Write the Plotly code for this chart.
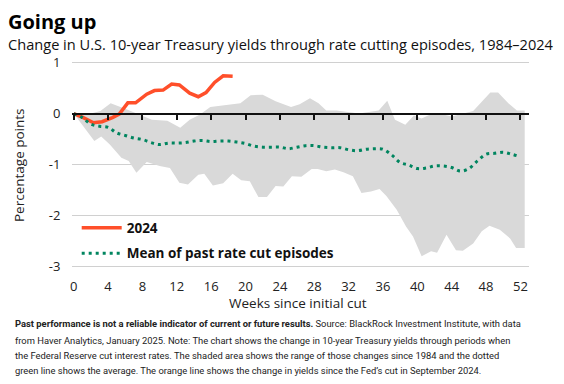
import plotly.graph_objects as go

# ---- data ----
upper_weeks = [0, 2, 3.1, 4.3, 6.2, 7.7, 9.1, 10.9, 12.4, 13.5, 14.7, 15.9, 17.8, 19.4, 20.6, 22.0, 23.5,
               25.3, 26.3, 27.5, 28.5, 29.4, 30.6, 31.6, 33.2, 35.5, 36.5, 37.4, 38.6, 39.6, 40.5, 41.5,
               43.0, 44.0, 46.5, 48.5, 49.4, 50.6, 51.6, 52.5]
upper_vals = [0, 0, 0.05, 0.2, 0.08, -0.02, -0.12, -0.14, -0.28, -0.12, -0.02, 0.13, 0.17, 0.2, 0.36, 0.37, 0.24,
              0.13, 0.18, 0.3, 0.2, 0.06, 0.06, 0.04, 0.0, 0.06, 0.25, -0.12, -0.22, -0.04, -0.1, -0.02,
              -0.02, -0.06, 0.05, 0.41, 0.41, 0.2, 0.06, 0.06]

lower_weeks = [0, 2.4, 3.2, 4.2, 5.55, 6.4, 7.3, 8.5, 10, 11.2, 12.3, 13.3, 14.5, 15.2, 16.2, 17.4, 18.5,
               19.5, 20.5, 21.5, 22.5, 23.5, 24.4, 25.4, 26.5, 27.7, 28.4, 29.4, 30.4, 31.4, 32.5, 33.5,
               34.6, 35.6, 36.4, 37.6, 38.7, 39.5, 40.5, 41.6, 42.3, 43.4, 44.5, 45.3, 46.5, 47.5, 48.4,
               49.6, 50.8, 51.5, 52.5]
lower_vals = [0, -0.54, -0.45, -0.61, -0.87, -0.93, -1.16, -0.95, -1.03, -1.07, -1.36, -1.39, -1.2, -1.18,
              -1.41, -1.37, -1.18, -1.31, -1.33, -1.64, -1.64, -1.42, -1.43, -1.23, -1.24, -1.09, -1.09,
              -1.13, -1.1, -1.15, -1.23, -1.56, -1.53, -1.48, -1.62, -1.89, -2.22, -2.41, -2.80, -2.70,
              -2.73, -2.38, -2.68, -2.69, -2.55, -2.31, -2.2, -2.28, -2.45, -2.64, -2.64]

mean_weeks = list(range(0, 53))
mean_vals = [0, -0.08, -0.21, -0.25, -0.27, -0.38, -0.43, -0.48, -0.51, -0.57, -0.61, -0.58, -0.58, -0.57,
             -0.54, -0.53, -0.55, -0.54, -0.54, -0.56, -0.59, -0.64, -0.66, -0.66, -0.66, -0.69, -0.66,
             -0.63, -0.63, -0.66, -0.67, -0.67, -0.71, -0.73, -0.70, -0.69, -0.70, -0.81, -0.96, -1.01,
             -1.08, -1.07, -1.03, -1.03, -1.06, -1.13, -1.08, -0.93, -0.80, -0.78, -0.76, -0.80, -0.85]

y2024_weeks = [0, 1, 2.3, 3.3, 4.5, 5.3, 6.3, 7.2, 8.5, 9.4, 10.4, 11.4, 12.3, 13.5, 14.5, 15.4, 16.4, 17.4, 18.5]
y2024_vals = [0, -0.07, -0.18, -0.16, -0.08, -0.01, 0.21, 0.21, 0.38, 0.45, 0.46, 0.58, 0.56, 0.40, 0.33,
              0.41, 0.61, 0.74, 0.73]

x_ticks = list(range(0, 53, 4))
y_ticks = [1, 0, -1, -2, -3]
y_tick_labels = ["1", "0", "-1", "-2", "-3"]

title = "Going up"
subtitle = "Change in U.S. 10-year Treasury yields through rate cutting episodes, 1984–2024"
x_title = "Weeks since initial cut"
y_title = "Percentage points"
note_lines = [
    "<b>Past performance is not a reliable indicator of current or future results.</b> Source: BlackRock Investment Institute, with data",
    "from Haver Analytics, January 2025. Note: The chart shows the change in 10-year Treasury yields through periods when",
    "the Federal Reserve cut interest rates. The shaded area shows the range of those changes since 1984 and the dotted",
    "green line shows the average. The orange line shows the change in yields since the Fed’s cut in September 2024.",
]

ORANGE = "#FF4F2A"
GREEN = "#00855F"
BAND = "#D9D9D9"
FONT = "Open Sans"
NOTE_FONT = "Roboto"

# The page has an 8px body margin; work in screen pixels and convert.
OFF = 8
W, H = 564 - OFF, 384 - OFF
PLOT_L, PLOT_R, PLOT_T, PLOT_B = 72.3, 529.3, 59.7, 268.6   # screen px of plot area
L, T = PLOT_L - OFF, PLOT_T - OFF
R, B = W - (PLOT_R - OFF), H - (PLOT_B - OFF)
PW, PH = PLOT_R - PLOT_L, PLOT_B - PLOT_T


def px_x(px):
    return (px - PLOT_L) / PW


def px_y(py):
    return (PLOT_B - py) / PH


fig = go.Figure()

fig.add_trace(go.Scatter(
    x=upper_weeks + lower_weeks[::-1],
    y=upper_vals + lower_vals[::-1],
    fill="toself", fillcolor=BAND, line=dict(width=0), mode="lines",
    showlegend=False, hoverinfo="skip"))

fig.add_trace(go.Scatter(
    x=[0, 52], y=[0, 0], xaxis="x2", mode="lines", line=dict(width=0),
    showlegend=False, hoverinfo="skip"))

fig.add_trace(go.Scatter(
    x=y2024_weeks, y=y2024_vals, mode="lines", name="<b>2024</b>",
    line=dict(color=ORANGE, width=3.5), legendgroup="a"))

fig.add_trace(go.Scatter(
    x=mean_weeks, y=mean_vals, mode="lines", name="<b>Mean of past rate cut episodes</b>",
    line=dict(color=GREEN, width=3, dash="3px,4px", shape="spline"), legendgroup="b"))

fig.update_layout(
    width=W, height=H,
    margin=dict(l=L, r=R, t=T, b=B, autoexpand=False),
    paper_bgcolor="white", plot_bgcolor="white",
    font=dict(family=FONT, size=13, color="#222"),
    xaxis=dict(range=[-0.2, 53], tickvals=x_ticks, showgrid=False, zeroline=False, automargin=False,
               showline=False, ticks="outside", ticklen=5, tickcolor="rgba(0,0,0,0)",
               tickfont=dict(size=13, color="#222")),
    xaxis2=dict(range=[-0.2, 53], overlaying="x", anchor="free", position=3.05 / 4.1,
                tickvals=x_ticks, showticklabels=False, showgrid=False, zeroline=False, automargin=False,
                showline=True, linecolor="#111", linewidth=2,
                ticks="outside", ticklen=5, tickwidth=2, tickcolor="#111"),
    yaxis=dict(range=[-3.05, 1.05], tickvals=y_ticks, ticktext=y_tick_labels, showgrid=True,
               gridcolor="#D0D0D0", gridwidth=1, zeroline=False, showline=False, ticks="outside",
               ticklen=8, automargin=False, tickcolor="rgba(0,0,0,0)", tickfont=dict(size=13, color="#222")),
    legend=dict(x=px_x(77), y=px_y(212), xanchor="left", yanchor="top", bgcolor="rgba(0,0,0,0)",
                font=dict(size=13.5, color="#111"), tracegroupgap=5, itemwidth=40),
    showlegend=True,
)

fig.add_annotation(text="<b>" + title + "</b>", xref="paper", yref="paper", x=px_x(7), y=px_y(21),
                   xanchor="left", yanchor="middle", showarrow=False, borderpad=0,
                   font=dict(size=20, color="#000", family=FONT))
fig.add_annotation(text=subtitle, xref="paper", yref="paper", x=px_x(7), y=px_y(43.5),
                   xanchor="left", yanchor="middle", showarrow=False, borderpad=0,
                   font=dict(size=14.6, color="#111", family=FONT))
fig.add_annotation(text=y_title, xref="paper", yref="paper", x=px_x(20), y=px_y(165), textangle=-90,
                   xanchor="center", yanchor="middle", showarrow=False,
                   font=dict(size=13.5, color="#222", family=FONT))
fig.add_annotation(text=x_title, xref="paper", yref="paper", x=px_x(298), y=px_y(303),
                   xanchor="center", yanchor="middle", showarrow=False,
                   font=dict(size=13.5, color="#222", family=FONT))

for i, (line, py) in enumerate(zip(note_lines, [323, 340, 355, 370])):
    fig.add_annotation(text=line, xref="paper", yref="paper", x=px_x(13), y=px_y(py),
                       xanchor="left", yanchor="middle", showarrow=False, align="left",
                       font=dict(size=9.4, color="#222", family=NOTE_FONT))

fig.write_html("out.html")
